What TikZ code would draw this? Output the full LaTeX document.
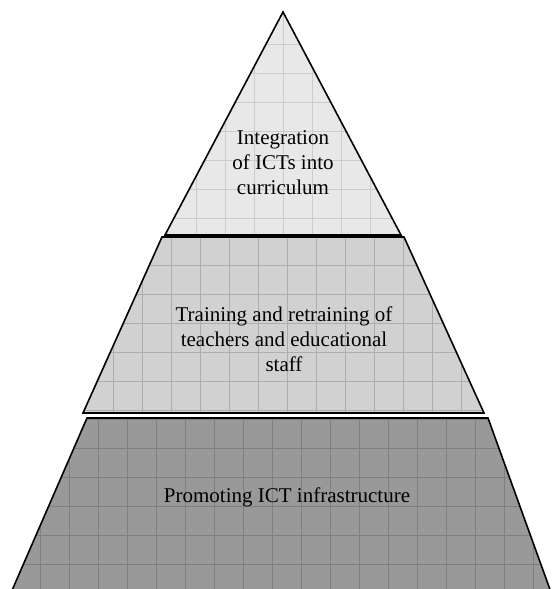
\documentclass[tikz,border=0pt]{standalone}
\usepackage{fontspec}
\setmainfont{Liberation Serif}
\usetikzlibrary{positioning}

\definecolor{topfill}{gray}{0.91}
\definecolor{topgrid}{gray}{0.80}
\definecolor{midfill}{gray}{0.82}
\definecolor{midgrid}{gray}{0.68}
\definecolor{lowfill}{gray}{0.60}
\definecolor{lowgrid}{gray}{0.50}

\tikzset{
  tier/.style={draw=black, line width=1.6pt, line join=miter},
  gridline/.style={line width=0.8pt},
  label/.style={align=center, inner sep=0pt, text=black, font=\fontsize{21}{25}\selectfont}
}

\begin{document}
\begin{tikzpicture}[x=1pt, y=-1pt]
\useasboundingbox (0,0) rectangle (553,589);

% top: integration
\begin{scope}
\clip (283,12) -- (401,235) -- (165,235) -- cycle;
\fill[topfill] (0,0) rectangle (553,240);
\foreach \gx in {22,51,...,553} \draw[gridline, topgrid] (\gx,0) -- (\gx,240);
\foreach \gy in {15,44,...,240} \draw[gridline, topgrid] (0,\gy) -- (553,\gy);
\end{scope}
\draw[tier] (283,12) -- (401,235) -- (165,235) -- cycle;

% middle: training
\begin{scope}
\clip (162,237) -- (404,237) -- (484,413) -- (83,413) -- cycle;
\fill[midfill] (0,230) rectangle (553,420);
\foreach \gx in {26,55,...,553} \draw[gridline, midgrid] (\gx,230) -- (\gx,420);
\foreach \gy in {236,265,...,420} \draw[gridline, midgrid] (0,\gy) -- (553,\gy);
\end{scope}
\draw[tier] (162,237) -- (404,237) -- (484,413) -- (83,413) -- cycle;

% bottom: infrastructure
\begin{scope}
\clip (87,418) -- (488,418) -- (552,595) -- (10,595) -- cycle;
\fill[lowfill] (0,410) rectangle (553,600);
\foreach \gx in {11,40,...,553} \draw[gridline, lowgrid] (\gx,410) -- (\gx,600);
\foreach \gy in {419,448,...,600} \draw[gridline, lowgrid] (0,\gy) -- (553,\gy);
\end{scope}
\draw[tier] (10,595) -- (87,418) -- (488,418) -- (552,595);

\node[label] (integration) at (283,163) {Integration\\of ICTs into\\curriculum};
\node[label] (training) at (284,339) {Training and retraining of\\teachers and educational\\staff};
\node[label, anchor=base] (infra) at (287,502) {Promoting ICT infrastructure};
\end{tikzpicture}
\end{document}
